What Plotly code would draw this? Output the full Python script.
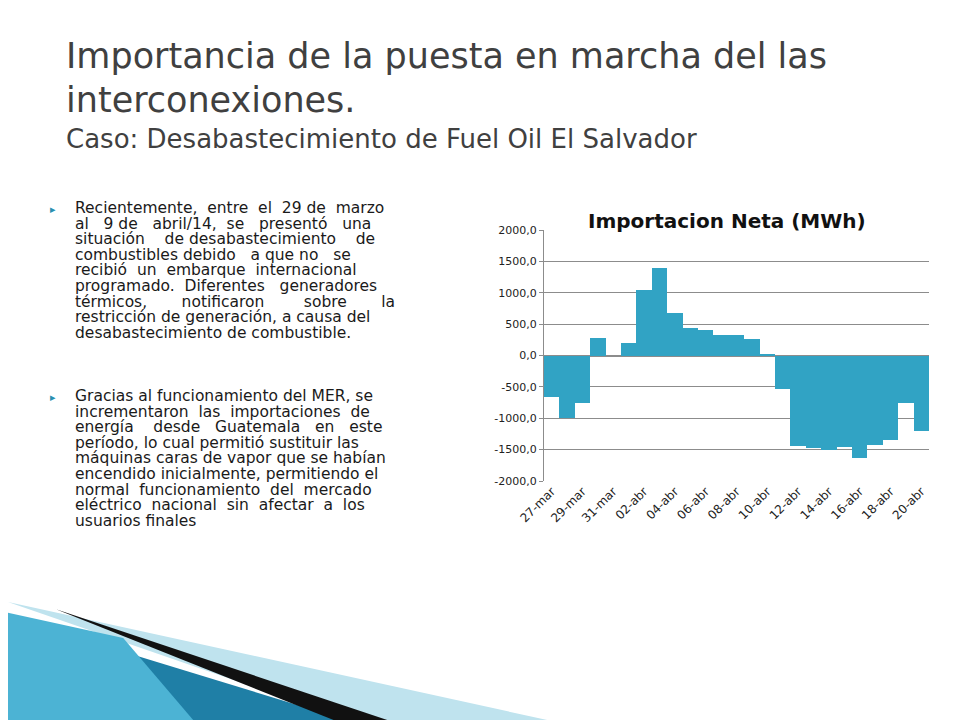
import plotly.graph_objs as go

dates = ['27-mar', '28-mar', '29-mar', '30-mar', '31-mar', '01-abr', '02-abr', '03-abr',
         '04-abr', '05-abr', '06-abr', '07-abr', '08-abr', '09-abr', '10-abr', '11-abr',
         '12-abr', '13-abr', '14-abr', '15-abr', '16-abr', '17-abr', '18-abr', '19-abr', '20-abr']
neta = [-660, -1000, -750, 280, 0, 200, 1050, 1400, 680, 440, 410, 330, 330, 270, 20,
        -530, -1450, -1480, -1500, -1460, -1640, -1430, -1350, -750, -1200]
y_ticks = [2000, 1500, 1000, 500, 0, -500, -1000, -1500, -2000]
y_labels = ['2000,0', '1500,0', '1000,0', '500,0', '0,0', '-500,0', '-1000,0', '-1500,0', '-2000,0']

bullet1 = ['Recientemente,  entre  el  29 de  marzo',
           'al   9 de   abril/14,  se   presentó   una',
           'situación    de desabastecimiento    de',
           'combustibles debido   a que no   se',
           'recibió  un  embarque  internacional',
           'programado.  Diferentes   generadores',
           'térmicos,       notificaron        sobre       la',
           'restricción de generación, a causa del',
           'desabastecimiento de combustible.']
bullet2 = ['Gracias al funcionamiento del MER, se',
           'incrementaron  las  importaciones  de',
           'energía    desde   Guatemala   en   este',
           'período, lo cual permitió sustituir las',
           'máquinas caras de vapor que se habían',
           'encendido inicialmente, permitiendo el',
           'normal  funcionamiento  del  mercado',
           'eléctrico  nacional  sin  afectar  a  los',
           'usuarios finales']

fig = go.Figure()
fig.add_trace(go.Bar(x=dates, y=neta, marker=dict(color='#31a3c4', line=dict(width=0))))

text_font = dict(family='DejaVu Sans', size=15.5, color='#1a1a1a')
ann = []
for i, line in enumerate(bullet1):
    ann.append(dict(x=65, y=200 + i * 15.6, text=line, font=text_font))
for i, line in enumerate(bullet2):
    ann.append(dict(x=65, y=388 + i * 15.6, text=line, font=text_font))
annotations = [dict(xref='paper', yref='paper', x=a['x'] / 960, y=1 - a['y'] / 720,
                    xanchor='left', yanchor='middle', showarrow=False,
                    text=a['text'], font=a['font']) for a in ann]
for yy in (200, 388):
    annotations.append(dict(xref='paper', yref='paper', x=40 / 960, y=1 - yy / 720,
                            xanchor='left', yanchor='middle', showarrow=False,
                            text='▸', font=dict(size=11, color='#2a8fb0')))
title_font = dict(family='DejaVu Sans', size=35, color='#404040')
annotations += [
    dict(xref='paper', yref='paper', x=56 / 960, y=1 - 48 / 720, xanchor='left', yanchor='middle',
         showarrow=False, text='Importancia de la puesta en marcha del las', font=title_font),
    dict(xref='paper', yref='paper', x=56 / 960, y=1 - 92 / 720, xanchor='left', yanchor='middle',
         showarrow=False, text='interconexiones.', font=title_font),
    dict(xref='paper', yref='paper', x=56 / 960, y=1 - 131 / 720, xanchor='left', yanchor='middle',
         showarrow=False, text='Caso: Desabastecimiento de Fuel Oil El Salvador',
         font=dict(family='DejaVu Sans', size=26, color='#404040')),
    dict(xref='paper', yref='paper', x=719 / 960, y=1 - 213 / 720, xanchor='center', yanchor='middle',
         showarrow=False, text='<b>Importacion Neta (MWh)</b>',
         font=dict(family='DejaVu Sans', size=20, color='#111111')),
]

shapes = [
    dict(type='path', xref='paper', yref='paper', layer='below',
         path='M 0 0.155 L 0.38 0 L 0 0 Z', fillcolor='#1f7fa6', line=dict(width=0)),
    dict(type='path', xref='paper', yref='paper', layer='below',
         path='M 0 0.175 L 0.6 0 L 0.38 0 Z', fillcolor='#bfe3ee', line=dict(width=0)),
    dict(type='path', xref='paper', yref='paper', layer='below',
         path='M 0.05 0.165 L 0.42 0 L 0.36 0 Z', fillcolor='#111111', line=dict(width=0)),
    dict(type='path', xref='paper', yref='paper', layer='below',
         path='M 0 0.16 L 0.12 0.125 L 0.2 0 L 0 0 Z', fillcolor='#4cb3d4', line=dict(width=0)),
]

fig.update_layout(
    width=960, height=720, margin=dict(l=0, r=0, t=0, b=0, autoexpand=False),
    paper_bgcolor='white', plot_bgcolor='white', showlegend=False, bargap=0,
    annotations=annotations, shapes=shapes,
    xaxis=dict(domain=[536 / 960, 921 / 960], anchor='y', tickangle=-45, automargin=False,
               tickmode='array', tickvals=dates[::2], ticktext=dates[::2],
               showline=False, showgrid=False, ticks='',
               tickfont=dict(family='DejaVu Sans', size=12, color='#222222')),
    yaxis=dict(domain=[1 - 473 / 720, 1 - 222 / 720], range=[-2000, 2000], automargin=False,
               tickvals=y_ticks, ticktext=y_labels, gridcolor='#8c8c8c', gridwidth=1,
               zeroline=True, zerolinecolor='#8c8c8c', showline=True, linecolor='#8c8c8c',
               ticks='outside', ticklen=4, tickcolor='#8c8c8c',
               tickfont=dict(family='DejaVu Sans', size=11, color='#222222')),
)
fig.write_html('out.html')
